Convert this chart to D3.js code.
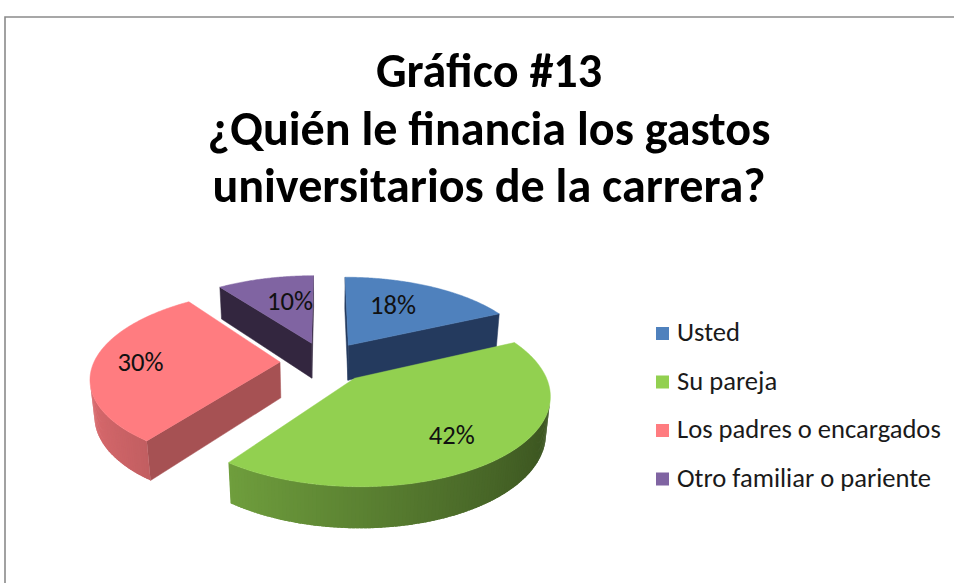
<!DOCTYPE html>
<html><head><meta charset="utf-8">
<script src="https://cdn.jsdelivr.net/npm/d3@7"></script>
<style>body{margin:0;background:#fff;} svg{display:block;}</style>
</head><body>
<svg id="c" width="954" height="583"></svg>
<script>
// ---- data ----
const categories = ["Usted", "Su pareja", "Los padres o encargados", "Otro familiar o pariente"];
const values = [18, 42, 30, 10];
const titleLines = ["Gráfico #13", "¿Quién le financia los gastos", "universitarios de la carrera?"];

// ---- styles ----
const topColors = ["#4F81BD", "#92D050", "#FF7C80", "#8064A2"];
const cutColors = ["#243A5E", "#4E7A2A", "#A65153", "#33263F"];
const labelRadius = [0.63, 0.72, 0.75, 0.6];
const labelTurn = [-0.1, 0.03, 0, 0.08];
const FONT = "Carlito, Calibri, Lato, 'Open Sans', sans-serif";

const svg = d3.select("#c");
const W = 954, Hh = 583;

// frame
svg.append("path").attr("d", `M5,${Hh} V17 H${W}`).attr("fill", "none")
  .attr("stroke", "#8a8a8a").attr("stroke-width", 1.6);

// ---- 3D projection ----
const alpha = 27 * Math.PI / 180, D = 1000, R = 186, TH = 41, EXP = 45, CX = 325, CY = 362;
const ca = Math.cos(alpha), sa = Math.sin(alpha);
function proj(X, Y, Z) {
  const zc = Z * ca + Y * sa, yc = Y * ca - Z * sa, s = D / (D - zc);
  return [CX + X * s, CY - yc * s];
}
const cam = [0, D * sa, D * ca];
function facing(P, N) {
  return N[0] * (cam[0] - P[0]) + N[1] * (cam[1] - P[1]) + N[2] * (cam[2] - P[2]) > 0;
}
const scaleCol = (c, k) => { const r = d3.rgb(c); return d3.rgb(r.r * k, r.g * k, r.b * k).formatHex(); };

const pie = d3.pie().sort(null).value(d => d);
const arcs = pie(values).map((a, i) => {
  const mid = (a.startAngle + a.endAngle) / 2;
  const ox = EXP * Math.sin(mid), oz = -EXP * Math.cos(mid);
  return { ...a, i, mid, ox, oz, depth: oz * ca };
});
const pt = (a, th, r, Y) => [a.ox + r * Math.sin(th), Y, a.oz - r * Math.cos(th)];
const line = pts => "M" + pts.map(p => proj(...p).map(v => v.toFixed(2)).join(",")).join("L") + "Z";

const gPie = svg.append("g");
arcs.slice().sort((a, b) => a.depth - b.depth).forEach(a => {
  const g = gPie.append("g");
  const c0 = [a.ox, 0, a.oz], c1 = [a.ox, -TH, a.oz];
  // radial cut faces
  [[a.startAngle, [-Math.cos(a.startAngle), 0, -Math.sin(a.startAngle)]],
   [a.endAngle, [Math.cos(a.endAngle), 0, Math.sin(a.endAngle)]]].forEach(([th, N]) => {
    const o0 = pt(a, th, R, 0), o1 = pt(a, th, R, -TH);
    if (facing([(a.ox + o0[0]) / 2, -TH / 2, (a.oz + o0[2]) / 2], N)) {
      g.append("path").attr("d", line([c0, o0, o1, c1])).attr("fill", cutColors[a.i])
        .attr("stroke", cutColors[a.i]).attr("stroke-width", 0.5).attr("stroke-linejoin", "round");
    }
  });
  // outer wall (overlapping thin segments, shaded)
  const span = a.endAngle - a.startAngle;
  const n = Math.max(4, Math.ceil(span / (Math.PI / 180)));
  const step = span / n;
  for (let j = 0; j < n; j++) {
    const t0 = a.startAngle + step * j;
    const t1 = Math.min(a.endAngle, t0 + step * 1.8);
    const tm = t0 + step / 2;
    const N = [Math.sin(tm), 0, -Math.cos(tm)];
    if (!facing(pt(a, tm, R, -TH / 2), N)) continue;
    const k = 0.625 + 0.229 * (-Math.sin(tm));
    const col = scaleCol(topColors[a.i], k);
    g.append("path").attr("d", line([pt(a, t0, R, 0), pt(a, t1, R, 0), pt(a, t1, R, -TH), pt(a, t0, R, -TH)]))
      .attr("fill", col);
  }
  // top face
  const m = Math.max(8, Math.ceil(span / (Math.PI / 360)));
  const tp = [c0];
  for (let j = 0; j <= m; j++) tp.push(pt(a, a.startAngle + span * j / m, R, 0));
  g.append("path").attr("d", line(tp)).attr("fill", topColors[a.i])
    .attr("stroke", topColors[a.i]).attr("stroke-width", 0.5);
});

// data labels
const total = d3.sum(values);
const labels = svg.append("g").selectAll("text").data(arcs).join("text")
  .attr("transform", a => {
    const p = proj(...pt(a, a.mid + labelTurn[a.i], R * labelRadius[a.i], 0));
    return `translate(${p[0]},${p[1]})`;
  })
  .attr("text-anchor", "middle").attr("dominant-baseline", "central")
  .attr("font-family", FONT).attr("font-size", 24).attr("fill", "#111")
  .text(a => Math.round(a.data / total * 100) + "%");
function fitSize(nodeSel, target) {
  const w = nodeSel.node().getComputedTextLength();
  return parseFloat(nodeSel.attr("font-size")) * target / w;
}
const lblSize = fitSize(labels.filter((d, i) => i === 1), 46);
labels.attr("font-size", lblSize);

// title
const title = svg.append("g").selectAll("text").data(titleLines).join("text")
  .attr("x", 489).attr("y", (d, i) => 87 + i * 57.5)
  .attr("text-anchor", "middle").attr("font-family", FONT).attr("font-weight", "bold")
  .attr("font-size", 44).attr("fill", "#000").text(d => d);
const tSize = fitSize(title.filter((d, i) => i === 1), 563);
title.attr("font-size", tSize);

// legend
const leg = svg.append("g").selectAll("g").data(categories).join("g")
  .attr("transform", (d, i) => `translate(656,${341 + i * 48.5})`);
leg.append("rect").attr("x", 0).attr("y", -14).attr("width", 13).attr("height", 13)
  .attr("fill", (d, i) => topColors[i]);
const legText = leg.append("text").attr("x", 21).attr("y", 0)
  .attr("font-family", FONT).attr("font-size", 24).attr("fill", "#1a1a1a").text(d => d);
const lSize = fitSize(legText.filter((d, i) => i === 2), 264);
legText.attr("font-size", lSize);
</script>
</body></html>
